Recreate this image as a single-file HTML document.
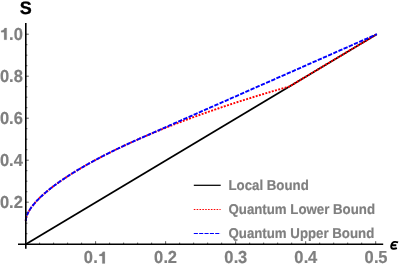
<!DOCTYPE html>
<html><head><meta charset="utf-8"><title>plot</title>
<style>
html,body{margin:0;padding:0;background:#fff;}
body{width:399px;height:264px;overflow:hidden;font-family:"Liberation Sans",sans-serif;}
svg{display:block;will-change:transform;}
text{font-family:"Liberation Sans",sans-serif;font-weight:bold;text-rendering:geometricPrecision;}
</style></head><body>
<svg width="399" height="264" viewBox="0 0 399 264">
<rect width="399" height="264" fill="#ffffff"/>
<g fill="none" stroke-linecap="butt" stroke-linejoin="round">
<path d="M25.8,244.2 L376.80,34.20" stroke="#000" stroke-width="1.7"/>
<path d="M25.80,221.05 L25.80,220.86 L25.81,220.67 L25.81,220.48 L25.82,220.29 L25.84,220.09 L25.85,219.90 L25.87,219.70 L25.89,219.51 L25.91,219.31 L25.94,219.11 L25.97,218.91 L26.00,218.71 L26.04,218.51 L26.08,218.31 L26.12,218.10 L26.16,217.90 L26.21,217.69 L26.26,217.49 L26.31,217.28 L26.36,217.07 L26.42,216.87 L26.48,216.66 L26.55,216.45 L26.61,216.23 L26.68,216.02 L26.75,215.81 L26.83,215.59 L26.91,215.38 L26.99,215.16 L27.07,214.95 L27.15,214.73 L27.24,214.51 L27.34,214.29 L27.43,214.07 L27.53,213.85 L27.63,213.62 L27.73,213.40 L27.84,213.18 L27.94,212.95 L28.06,212.73 L28.17,212.50 L28.29,212.27 L28.41,212.04 L28.53,211.82 L28.65,211.58 L28.78,211.35 L28.91,211.12 L29.05,210.89 L29.18,210.66 L29.32,210.42 L29.47,210.19 L29.61,209.95 L29.76,209.71 L29.91,209.48 L30.06,209.24 L30.22,209.00 L30.38,208.76 L30.54,208.52 L30.71,208.27 L30.87,208.03 L31.05,207.79 L31.22,207.54 L31.39,207.30 L31.57,207.05 L31.76,206.81 L31.94,206.56 L32.13,206.31 L32.32,206.06 L32.51,205.81 L32.71,205.56 L32.91,205.31 L33.11,205.06 L33.31,204.80 L33.52,204.55 L33.73,204.30 L33.94,204.04 L34.16,203.79 L34.38,203.53 L34.60,203.27 L34.82,203.01 L35.05,202.75 L35.28,202.49 L35.51,202.23 L35.75,201.97 L35.98,201.71 L36.23,201.45 L36.47,201.18 L36.72,200.92 L36.97,200.65 L37.22,200.39 L37.47,200.12 L37.73,199.85 L37.99,199.59 L38.26,199.32 L38.52,199.05 L38.79,198.78 L39.06,198.51 L39.34,198.24 L39.62,197.96 L39.90,197.69 L40.18,197.42 L40.47,197.14 L40.75,196.87 L41.05,196.59 L41.34,196.32 L41.64,196.04 L41.94,195.76 L42.24,195.48 L42.55,195.21 L42.86,194.93 L43.17,194.65 L43.48,194.37 L43.80,194.08 L44.12,193.80 L44.44,193.52 L44.77,193.23 L45.10,192.95 L45.43,192.67 L45.76,192.38 L46.10,192.09 L46.44,191.81 L46.78,191.52 L47.13,191.23 L47.47,190.94 L47.83,190.65 L48.18,190.36 L48.54,190.07 L48.90,189.78 L49.26,189.49 L49.62,189.20 L49.99,188.91 L50.36,188.61 L50.73,188.32 L51.11,188.02 L51.49,187.73 L51.87,187.43 L52.26,187.13 L52.65,186.84 L53.04,186.54 L53.43,186.24 L53.82,185.94 L54.22,185.64 L54.63,185.34 L55.03,185.04 L55.44,184.74 L55.85,184.44 L56.26,184.14 L56.68,183.83 L57.10,183.53 L57.52,183.23 L57.94,182.92 L58.37,182.62 L58.80,182.31 L59.23,182.01 L59.67,181.70 L60.10,181.39 L60.55,181.08 L60.99,180.78 L61.44,180.47 L61.89,180.16 L62.34,179.85 L62.79,179.54 L63.25,179.23 L63.71,178.92 L64.18,178.60 L64.64,178.29 L65.11,177.98 L65.59,177.67 L66.06,177.35 L66.54,177.04 L67.02,176.72 L67.50,176.41 L67.99,176.09 L68.48,175.78 L68.97,175.46 L69.46,175.14 L69.96,174.82 L70.46,174.51 L70.97,174.19 L71.47,173.87 L71.98,173.55 L72.49,173.23 L73.01,172.91 L73.52,172.59 L74.04,172.27 L74.57,171.94 L75.09,171.62 L75.62,171.30 L76.15,170.98 L76.69,170.65 L77.22,170.33 L77.76,170.00 L78.31,169.68 L78.85,169.35 L79.40,169.03 L79.95,168.70 L80.51,168.38 L81.06,168.05 L81.62,167.72 L82.19,167.39 L82.75,167.07 L83.32,166.74 L83.89,166.41 L84.46,166.08 L85.04,165.75 L85.62,165.42 L86.20,165.09 L86.79,164.76 L87.37,164.43 L87.96,164.10 L88.56,163.76 L89.15,163.43 L89.75,163.10 L90.36,162.77 L90.96,162.43 L91.57,162.10 L92.18,161.76 L92.79,161.43 L93.41,161.09 L94.03,160.76 L94.65,160.42 L95.27,160.09 L95.90,159.75 L96.53,159.42 L97.16,159.08 L97.80,158.74 L98.44,158.40 L99.08,158.07 L99.72,157.73 L100.37,157.39 L101.02,157.05 L101.67,156.71 L102.33,156.37 L102.99,156.03 L103.65,155.69 L104.31,155.35 L104.98,155.01 L105.65,154.67 L106.32,154.33 L106.99,153.99 L107.67,153.65 L108.35,153.30 L109.04,152.96 L109.72,152.62 L110.41,152.28 L111.11,151.93 L111.80,151.59 L112.50,151.25 L113.20,150.90 L113.90,150.56 L114.61,150.21 L115.32,149.87 L116.03,149.52 L116.74,149.18 L117.46,148.83 L118.18,148.49 L118.90,148.14 L119.63,147.80 L120.36,147.45 L121.09,147.10 L121.83,146.76 L122.56,146.41 L123.30,146.06 L124.05,145.71 L124.79,145.37 L125.54,145.02 L126.29,144.67 L127.05,144.32 L127.80,143.97 L128.56,143.63 L129.32,143.28 L130.09,142.93 L130.86,142.58 L131.63,142.23 L132.40,141.88 L133.18,141.53 L133.96,141.18 L134.74,140.83 L135.53,140.48 L136.32,140.13 L137.11,139.78 L137.90,139.43 L138.70,139.08 L139.50,138.72 L140.30,138.37 L141.10,138.02 L141.91,137.67 L142.72,137.32 L143.53,136.97 L144.35,136.61 L145.17,136.26 L145.99,135.91 L146.82,135.56 L147.64,135.21 L148.47,134.85 L149.31,134.50 L150.14,134.15 L150.98,133.79 L151.82,133.44 L152.67,133.09 L153.51,132.73 L154.36,132.38 L155.22,132.03 L156.07,131.67 L156.93,131.32 L157.79,130.97 L158.66,130.61 L159.52,130.26 L160.39,129.90 L161.27,129.55 L162.14,129.19 L163.02,128.84 L163.90,128.49 L164.78,128.13 L165.67,127.78 L166.56,127.42 L167.45,127.07 L168.35,126.71 L169.25,126.36 L170.15,126.00 L171.05,125.65 L171.96,125.29 L172.87,124.94 L173.78,124.58 L174.69,124.23 L175.61,123.87 L176.53,123.52 L177.45,123.16 L178.38,122.81 L179.31,122.45 L180.24,122.10 L181.18,121.74 L182.11,121.39 L183.05,121.03 L184.00,120.67 L184.94,120.32 L185.89,119.96 L186.84,119.61 L187.80,119.25 L188.75,118.90 L189.71,118.54 L190.68,118.19 L191.64,117.83 L192.61,117.48 L193.58,117.12 L194.56,116.77 L195.53,116.41 L196.51,116.06 L197.49,115.70 L198.48,115.35 L199.47,114.99 L200.46,114.64 L201.45,114.28 L202.45,113.93 L203.45,113.57 L204.45,113.22 L205.46,112.86 L206.46,112.51 L207.47,112.15 L208.49,111.80 L209.50,111.44 L210.52,111.09 L211.55,110.73 L212.57,110.38 L213.60,110.03 L214.63,109.67 L215.66,109.32 L216.70,108.96 L217.74,108.61 L218.78,108.26 L219.82,107.90 L220.87,107.55 L221.92,107.20 L222.97,106.84 L224.03,106.49 L225.09,106.14 L226.15,105.78 L227.21,105.43 L228.28,105.08 L229.35,104.72 L230.42,104.37 L231.50,104.02 L232.58,103.67 L233.66,103.31 L234.74,102.96 L235.83,102.61 L236.92,102.26 L238.01,101.91 L239.11,101.56 L240.21,101.20 L241.31,100.85 L242.41,100.50 L243.52,100.15 L244.63,99.80 L245.74,99.45 L246.85,99.10 L247.97,98.75 L249.09,98.40 L250.21,98.05 L251.34,97.70 L252.47,97.35 L253.60,97.00 L254.74,96.65 L255.87,96.30 L257.02,95.96 L258.16,95.61 L259.30,95.26 L260.45,94.91 L261.60,94.56 L262.76,94.22 L263.92,93.87 L265.08,93.52 L266.24,93.17 L267.41,92.83 L268.57,92.48 L269.75,92.14 L270.92,91.79 L272.10,91.44 L273.28,91.10 L274.46,90.75 L275.64,90.41 L276.83,90.06 L278.02,89.72 L279.22,89.37 L280.41,89.03 L281.61,88.69 L282.82,88.34 L284.02,88.00 L285.23,87.66 L286.44,87.31 L287.65,86.97 L288.87,86.63 L289.43,86.47 L376.80,34.20" stroke="#ff0000" stroke-width="1.9" stroke-dasharray="1.95 1.4"/>
<path d="M25.80,221.05 L25.80,220.86 L25.81,220.67 L25.81,220.48 L25.82,220.29 L25.84,220.09 L25.85,219.90 L25.87,219.70 L25.89,219.51 L25.91,219.31 L25.94,219.11 L25.97,218.91 L26.00,218.71 L26.04,218.51 L26.08,218.31 L26.12,218.10 L26.16,217.90 L26.21,217.69 L26.26,217.49 L26.31,217.28 L26.36,217.07 L26.42,216.87 L26.48,216.66 L26.55,216.45 L26.61,216.23 L26.68,216.02 L26.75,215.81 L26.83,215.59 L26.91,215.38 L26.99,215.16 L27.07,214.95 L27.15,214.73 L27.24,214.51 L27.34,214.29 L27.43,214.07 L27.53,213.85 L27.63,213.62 L27.73,213.40 L27.84,213.18 L27.94,212.95 L28.06,212.73 L28.17,212.50 L28.29,212.27 L28.41,212.04 L28.53,211.82 L28.65,211.58 L28.78,211.35 L28.91,211.12 L29.05,210.89 L29.18,210.66 L29.32,210.42 L29.47,210.19 L29.61,209.95 L29.76,209.71 L29.91,209.48 L30.06,209.24 L30.22,209.00 L30.38,208.76 L30.54,208.52 L30.71,208.27 L30.87,208.03 L31.05,207.79 L31.22,207.54 L31.39,207.30 L31.57,207.05 L31.76,206.81 L31.94,206.56 L32.13,206.31 L32.32,206.06 L32.51,205.81 L32.71,205.56 L32.91,205.31 L33.11,205.06 L33.31,204.80 L33.52,204.55 L33.73,204.30 L33.94,204.04 L34.16,203.79 L34.38,203.53 L34.60,203.27 L34.82,203.01 L35.05,202.75 L35.28,202.49 L35.51,202.23 L35.75,201.97 L35.98,201.71 L36.23,201.45 L36.47,201.18 L36.72,200.92 L36.97,200.65 L37.22,200.39 L37.47,200.12 L37.73,199.85 L37.99,199.59 L38.26,199.32 L38.52,199.05 L38.79,198.78 L39.06,198.51 L39.34,198.24 L39.62,197.96 L39.90,197.69 L40.18,197.42 L40.47,197.14 L40.75,196.87 L41.05,196.59 L41.34,196.32 L41.64,196.04 L41.94,195.76 L42.24,195.48 L42.55,195.21 L42.86,194.93 L43.17,194.65 L43.48,194.37 L43.80,194.08 L44.12,193.80 L44.44,193.52 L44.77,193.23 L45.10,192.95 L45.43,192.67 L45.76,192.38 L46.10,192.09 L46.44,191.81 L46.78,191.52 L47.13,191.23 L47.47,190.94 L47.83,190.65 L48.18,190.36 L48.54,190.07 L48.90,189.78 L49.26,189.49 L49.62,189.20 L49.99,188.91 L50.36,188.61 L50.73,188.32 L51.11,188.02 L51.49,187.73 L51.87,187.43 L52.26,187.13 L52.65,186.84 L53.04,186.54 L53.43,186.24 L53.82,185.94 L54.22,185.64 L54.63,185.34 L55.03,185.04 L55.44,184.74 L55.85,184.44 L56.26,184.14 L56.68,183.83 L57.10,183.53 L57.52,183.23 L57.94,182.92 L58.37,182.62 L58.80,182.31 L59.23,182.01 L59.67,181.70 L60.10,181.39 L60.55,181.08 L60.99,180.78 L61.44,180.47 L61.89,180.16 L62.34,179.85 L62.79,179.54 L63.25,179.23 L63.71,178.92 L64.18,178.60 L64.64,178.29 L65.11,177.98 L65.59,177.67 L66.06,177.35 L66.54,177.04 L67.02,176.72 L67.50,176.41 L67.99,176.09 L68.48,175.78 L68.97,175.46 L69.46,175.14 L69.96,174.82 L70.46,174.51 L70.97,174.19 L71.47,173.87 L71.98,173.55 L72.49,173.23 L73.01,172.91 L73.52,172.59 L74.04,172.27 L74.57,171.94 L75.09,171.62 L75.62,171.30 L76.15,170.98 L76.69,170.65 L77.22,170.33 L77.76,170.00 L78.31,169.68 L78.85,169.35 L79.40,169.03 L79.95,168.70 L80.51,168.38 L81.06,168.05 L81.62,167.72 L82.19,167.39 L82.75,167.07 L83.32,166.74 L83.89,166.41 L84.46,166.08 L85.04,165.75 L85.62,165.42 L86.20,165.09 L86.79,164.76 L87.37,164.43 L87.96,164.10 L88.56,163.76 L89.15,163.43 L89.75,163.10 L90.36,162.77 L90.96,162.43 L91.57,162.10 L92.18,161.76 L92.79,161.43 L93.41,161.09 L94.03,160.76 L94.65,160.42 L95.27,160.09 L95.90,159.75 L96.53,159.42 L97.16,159.08 L97.80,158.74 L98.44,158.40 L99.08,158.07 L99.72,157.73 L100.37,157.39 L101.02,157.05 L101.67,156.71 L102.33,156.37 L102.99,156.03 L103.65,155.69 L104.31,155.35 L104.98,155.01 L105.65,154.67 L106.32,154.33 L106.99,153.99 L107.67,153.65 L108.35,153.30 L109.04,152.96 L109.72,152.62 L110.41,152.28 L111.11,151.93 L111.80,151.59 L112.50,151.25 L113.20,150.90 L113.90,150.56 L114.61,150.21 L115.32,149.87 L116.03,149.52 L116.74,149.18 L117.46,148.83 L118.18,148.49 L118.90,148.14 L119.63,147.80 L120.36,147.45 L121.09,147.10 L121.83,146.76 L122.56,146.41 L123.30,146.06 L124.05,145.71 L124.79,145.37 L125.54,145.02 L126.29,144.67 L127.05,144.32 L127.80,143.97 L128.56,143.63 L129.32,143.28 L130.09,142.93 L130.86,142.58 L131.63,142.23 L132.40,141.88 L133.18,141.53 L133.96,141.18 L134.74,140.83 L135.53,140.48 L136.32,140.13 L137.11,139.78 L137.90,139.43 L138.70,139.08 L139.50,138.72 L140.30,138.37 L141.10,138.02 L141.91,137.66 L142.72,137.30 L143.53,136.95 L144.35,136.59 L145.17,136.22 L145.99,135.86 L146.82,135.50 L147.64,135.14 L148.47,134.77 L149.31,134.40 L150.14,134.03 L150.98,133.66 L151.82,133.29 L152.67,132.92 L153.51,132.55 L154.36,132.17 L155.22,131.80 L156.07,131.42 L156.93,131.04 L157.79,130.66 L158.66,130.28 L159.52,129.90 L160.39,129.52 L161.27,129.13 L162.14,128.75 L163.02,128.36 L163.90,127.97 L164.78,127.59 L165.67,127.19 L166.56,126.80 L167.45,126.41 L168.35,126.02 L169.25,125.62 L170.15,125.22 L171.05,124.83 L171.96,124.43 L172.87,124.03 L173.78,123.62 L174.69,123.22 L175.61,122.82 L176.53,122.41 L177.45,122.00 L178.38,121.60 L179.31,121.19 L180.24,120.78 L181.18,120.37 L182.11,119.95 L183.05,119.54 L184.00,119.12 L184.94,118.71 L185.89,118.29 L186.84,117.87 L187.80,117.45 L188.75,117.03 L189.71,116.60 L190.68,116.18 L191.64,115.76 L192.61,115.33 L193.58,114.90 L194.56,114.47 L195.53,114.04 L196.51,113.61 L197.49,113.18 L198.48,112.74 L199.47,112.31 L200.46,111.87 L201.45,111.43 L202.45,110.99 L203.45,110.55 L204.45,110.11 L205.46,109.67 L206.46,109.23 L207.47,108.78 L208.49,108.33 L209.50,107.89 L210.52,107.44 L211.55,106.99 L212.57,106.54 L213.60,106.08 L214.63,105.63 L215.66,105.18 L216.70,104.72 L217.74,104.26 L218.78,103.80 L219.82,103.34 L220.87,102.88 L221.92,102.42 L222.97,101.95 L224.03,101.49 L225.09,101.02 L226.15,100.56 L227.21,100.09 L228.28,99.62 L229.35,99.15 L230.42,98.67 L231.50,98.20 L232.58,97.72 L233.66,97.25 L234.74,96.77 L235.83,96.29 L236.92,95.81 L238.01,95.33 L239.11,94.85 L240.21,94.36 L241.31,93.88 L242.41,93.39 L243.52,92.91 L244.63,92.42 L245.74,91.93 L246.85,91.44 L247.97,90.94 L249.09,90.45 L250.21,89.96 L251.34,89.46 L252.47,88.96 L253.60,88.46 L254.74,87.96 L255.87,87.46 L257.02,86.96 L258.16,86.46 L259.30,85.95 L260.45,85.45 L261.60,84.94 L262.76,84.43 L263.92,83.92 L265.08,83.41 L266.24,82.90 L267.41,82.38 L268.57,81.87 L269.75,81.35 L270.92,80.84 L272.10,80.32 L273.28,79.80 L274.46,79.28 L275.64,78.76 L276.83,78.23 L278.02,77.71 L279.22,77.18 L280.41,76.65 L281.61,76.13 L282.82,75.60 L284.02,75.07 L285.23,74.53 L286.44,74.00 L287.65,73.47 L288.87,72.93 L290.09,72.39 L291.31,71.85 L292.54,71.31 L293.77,70.77 L295.00,70.23 L296.23,69.69 L297.47,69.14 L298.70,68.60 L299.95,68.05 L301.19,67.50 L302.44,66.95 L303.69,66.40 L304.94,65.85 L306.20,65.30 L307.46,64.74 L308.72,64.19 L309.98,63.63 L311.25,63.07 L312.52,62.51 L313.79,61.95 L315.07,61.39 L316.35,60.83 L317.63,60.26 L318.91,59.70 L320.20,59.13 L321.49,58.56 L322.78,57.99 L324.08,57.42 L325.38,56.85 L326.68,56.28 L327.98,55.70 L329.29,55.13 L330.60,54.55 L331.91,53.97 L333.23,53.39 L334.54,52.81 L335.86,52.23 L337.19,51.65 L338.51,51.06 L339.84,50.48 L341.18,49.89 L342.51,49.30 L343.85,48.71 L345.19,48.12 L346.53,47.53 L347.88,46.94 L349.23,46.34 L350.58,45.75 L351.93,45.15 L353.29,44.55 L354.65,43.96 L356.01,43.36 L357.38,42.75 L358.75,42.15 L360.12,41.55 L361.50,40.94 L362.87,40.33 L364.25,39.73 L365.64,39.12 L367.02,38.51 L368.41,37.90 L369.80,37.28 L371.20,36.67 L372.59,36.05 L373.99,35.44 L375.39,34.82 L376.80,34.20" stroke="#0000ff" stroke-width="1.9" stroke-dasharray="4.3 1.35"/>
</g>
<g stroke="#000" stroke-width="1.6" fill="none">
<line x1="18" y1="244.2" x2="383.2" y2="244.2"/>
<line x1="25.8" y1="23" x2="25.8" y2="248.8"/>
</g>
<g stroke="#000" stroke-width="0.65" fill="none">
<line x1="39.60" y1="244.2" x2="39.60" y2="242.60"/>
<line x1="53.61" y1="244.2" x2="53.61" y2="242.60"/>
<line x1="67.61" y1="244.2" x2="67.61" y2="242.60"/>
<line x1="81.62" y1="244.2" x2="81.62" y2="242.60"/>
<line x1="95.62" y1="244.2" x2="95.62" y2="241.20"/>
<line x1="109.62" y1="244.2" x2="109.62" y2="242.60"/>
<line x1="123.63" y1="244.2" x2="123.63" y2="242.60"/>
<line x1="137.63" y1="244.2" x2="137.63" y2="242.60"/>
<line x1="151.64" y1="244.2" x2="151.64" y2="242.60"/>
<line x1="165.64" y1="244.2" x2="165.64" y2="241.20"/>
<line x1="179.64" y1="244.2" x2="179.64" y2="242.60"/>
<line x1="193.65" y1="244.2" x2="193.65" y2="242.60"/>
<line x1="207.65" y1="244.2" x2="207.65" y2="242.60"/>
<line x1="221.66" y1="244.2" x2="221.66" y2="242.60"/>
<line x1="235.66" y1="244.2" x2="235.66" y2="241.20"/>
<line x1="249.66" y1="244.2" x2="249.66" y2="242.60"/>
<line x1="263.67" y1="244.2" x2="263.67" y2="242.60"/>
<line x1="277.67" y1="244.2" x2="277.67" y2="242.60"/>
<line x1="291.68" y1="244.2" x2="291.68" y2="242.60"/>
<line x1="305.68" y1="244.2" x2="305.68" y2="241.20"/>
<line x1="319.68" y1="244.2" x2="319.68" y2="242.60"/>
<line x1="333.69" y1="244.2" x2="333.69" y2="242.60"/>
<line x1="347.69" y1="244.2" x2="347.69" y2="242.60"/>
<line x1="361.70" y1="244.2" x2="361.70" y2="242.60"/>
<line x1="375.70" y1="244.2" x2="375.70" y2="241.20"/>
<line x1="25.8" y1="233.70" x2="27.40" y2="233.70"/>
<line x1="25.8" y1="223.20" x2="27.40" y2="223.20"/>
<line x1="25.8" y1="212.70" x2="27.40" y2="212.70"/>
<line x1="25.8" y1="202.20" x2="28.80" y2="202.20"/>
<line x1="25.8" y1="191.70" x2="27.40" y2="191.70"/>
<line x1="25.8" y1="181.20" x2="27.40" y2="181.20"/>
<line x1="25.8" y1="170.70" x2="27.40" y2="170.70"/>
<line x1="25.8" y1="160.20" x2="28.80" y2="160.20"/>
<line x1="25.8" y1="149.70" x2="27.40" y2="149.70"/>
<line x1="25.8" y1="139.20" x2="27.40" y2="139.20"/>
<line x1="25.8" y1="128.70" x2="27.40" y2="128.70"/>
<line x1="25.8" y1="118.20" x2="28.80" y2="118.20"/>
<line x1="25.8" y1="107.70" x2="27.40" y2="107.70"/>
<line x1="25.8" y1="97.20" x2="27.40" y2="97.20"/>
<line x1="25.8" y1="86.70" x2="27.40" y2="86.70"/>
<line x1="25.8" y1="76.20" x2="28.80" y2="76.20"/>
<line x1="25.8" y1="65.70" x2="27.40" y2="65.70"/>
<line x1="25.8" y1="55.20" x2="27.40" y2="55.20"/>
<line x1="25.8" y1="44.70" x2="27.40" y2="44.70"/>
<line x1="25.8" y1="34.20" x2="28.80" y2="34.20"/>
</g>
<g font-size="16.5" fill="#7f7f7f" stroke="#7f7f7f" stroke-width="0.18">
<text transform="translate(83.73,263.45) scale(1,1.06)">0</text>
<text transform="translate(93.26,263.45) scale(1,1.06)">.</text>
<path d="M104.89,251.72 L104.89,263.45 L102.29,263.45 L102.29,255.92 L99.29,255.92 L99.29,254.42 Q102.09,254.22 102.84,251.72 Z"/>
<text transform="translate(153.93,263.45) scale(1,1.06)">0</text>
<text transform="translate(163.46,263.45) scale(1,1.06)">.</text>
<text transform="translate(167.69,263.45) scale(1,1.06)">2</text>
<text transform="translate(224.13,263.45) scale(1,1.06)">0</text>
<text transform="translate(233.66,263.45) scale(1,1.06)">.</text>
<text transform="translate(237.89,263.45) scale(1,1.06)">3</text>
<text transform="translate(294.33,263.45) scale(1,1.06)">0</text>
<text transform="translate(303.86,263.45) scale(1,1.06)">.</text>
<text transform="translate(308.09,263.45) scale(1,1.06)">4</text>
<text transform="translate(364.53,263.45) scale(1,1.06)">0</text>
<text transform="translate(374.06,263.45) scale(1,1.06)">.</text>
<text transform="translate(378.29,263.45) scale(1,1.06)">5</text>
<text transform="translate(0.06,207.70) scale(1,1.06)">0</text>
<text transform="translate(9.09,207.70) scale(1,1.06)">.</text>
<text transform="translate(13.82,207.70) scale(1,1.06)">2</text>
<text transform="translate(0.06,165.70) scale(1,1.06)">0</text>
<text transform="translate(9.09,165.70) scale(1,1.06)">.</text>
<text transform="translate(13.82,165.70) scale(1,1.06)">4</text>
<text transform="translate(0.06,123.70) scale(1,1.06)">0</text>
<text transform="translate(9.09,123.70) scale(1,1.06)">.</text>
<text transform="translate(13.82,123.70) scale(1,1.06)">6</text>
<text transform="translate(0.06,81.70) scale(1,1.06)">0</text>
<text transform="translate(9.09,81.70) scale(1,1.06)">.</text>
<text transform="translate(13.82,81.70) scale(1,1.06)">8</text>
<path d="M6.71,27.97 L6.71,39.70 L4.11,39.70 L4.11,32.17 L1.11,32.17 L1.11,30.67 Q3.91,30.47 4.66,27.97 Z"/>
<text transform="translate(9.09,39.70) scale(1,1.06)">.</text>
<text transform="translate(13.82,39.70) scale(1,1.06)">0</text>
</g>
<text x="25.7" y="13.6" font-size="18" fill="#000" stroke="#000" stroke-width="0.3" text-anchor="middle">S</text>
<path d="M398.1,242.3 C396.9,241.9 395.8,241.85 394.7,241.9 C392.7,242.0 391.7,243.8 391.3,245.5 C390.8,247.5 391.6,248.7 393.5,248.75 C394.8,248.8 395.9,248.6 396.9,248.2 M391.6,245.2 L396.3,245.2" fill="none" stroke="#000" stroke-width="1.9" stroke-linecap="butt"/>
<g fill="none" stroke-width="1">
<line x1="193.8" y1="185.3" x2="220.7" y2="185.3" stroke="#000" stroke-width="1.25"/>
<line x1="193.8" y1="209.5" x2="220.6" y2="209.5" stroke="#ff0000" stroke-width="1.15" stroke-dasharray="1.55 1.3"/>
<line x1="193.8" y1="233.5" x2="220.6" y2="233.5" stroke="#0000ff" stroke-width="1.1" stroke-dasharray="4.1 1.25"/>
</g>
<g font-size="13.25" fill="#7f7f7f" stroke="#7f7f7f" stroke-width="0.18">
<text transform="translate(228.5,189.75) scale(1,1.075)">Local Bound</text>
<text transform="translate(228.5,213.75) scale(1,1.075)">Quantum Lower Bound</text>
<text transform="translate(228.5,237.85) scale(1,1.075)">Quantum Upper Bound</text>
</g>
</svg>
</body></html>
